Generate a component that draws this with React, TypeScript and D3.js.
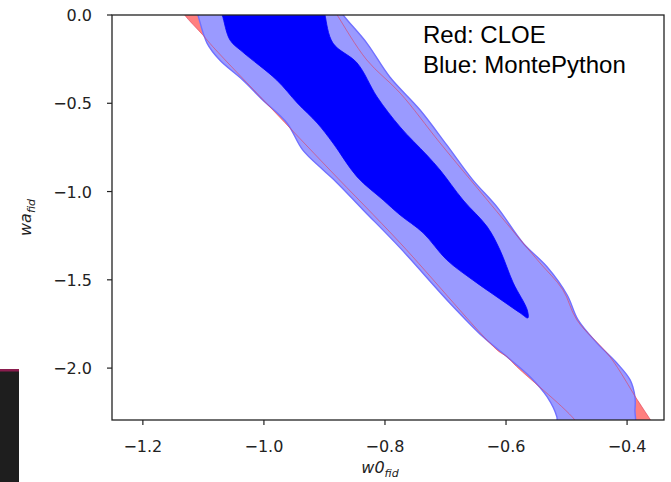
import React from "react";
import * as d3 from "d3";

// ---- data (w0_fid, wa_fid) contour vertices ----
const xTicks = [-1.2, -1.0, -0.8, -0.6, -0.4];
const yTicks = [0.0, -0.5, -1.0, -1.5, -2.0];
const xDomain = [-1.251, -0.339];
const yDomain = [-2.294, 0];

// Blue (MontePython) 95% contour
const blueOuter: [number, number][] = [
  [-0.878, 0.05], [-0.869, 0.0], [-0.83, -0.159], [-0.792, -0.351], [-0.742, -0.538],
  [-0.698, -0.736], [-0.655, -0.934], [-0.615, -1.087], [-0.572, -1.291],
  [-0.532, -1.427], [-0.499, -1.586], [-0.481, -1.727], [-0.45, -1.857],
  [-0.417, -1.971], [-0.395, -2.067], [-0.387, -2.163], [-0.387, -2.237],
  [-0.39, -2.35], [-0.514, -2.35], [-0.516, -2.276], [-0.532, -2.163],
  [-0.56, -2.05], [-0.598, -1.937], [-0.638, -1.823], [-0.693, -1.631],
  [-0.775, -1.319], [-0.836, -1.104], [-0.879, -0.951], [-0.902, -0.878],
  [-0.936, -0.764], [-0.962, -0.612], [-1.002, -0.481], [-1.035, -0.368],
  [-1.073, -0.255], [-1.094, -0.159], [-1.109, 0.0], [-1.113, 0.05],
];

// Blue (MontePython) 68% contour
const blueInner: [number, number][] = [
  [-1.075, 0.05], [-1.069, 0.0], [-1.056, -0.142], [-1.035, -0.21], [-0.979, -0.368],
  [-0.945, -0.498], [-0.912, -0.612], [-0.886, -0.725], [-0.846, -0.917],
  [-0.803, -1.048], [-0.775, -1.133], [-0.737, -1.234], [-0.698, -1.387],
  [-0.655, -1.501], [-0.615, -1.597], [-0.577, -1.687], [-0.564, -1.716],
  [-0.565, -1.67], [-0.588, -1.518], [-0.61, -1.331], [-0.631, -1.2],
  [-0.671, -1.048], [-0.709, -0.878], [-0.731, -0.793], [-0.775, -0.634],
  [-0.813, -0.464], [-0.846, -0.272], [-0.886, -0.159], [-0.899, 0.0], [-0.901, 0.05],
];

// Red (CLOE) 95% contour
const redOuter: [number, number][] = [
  [-0.888, 0.05], [-0.879, 0.0], [-0.83, -0.255], [-0.775, -0.442], [-0.709, -0.725],
  [-0.631, -1.048], [-0.572, -1.291], [-0.544, -1.404], [-0.506, -1.557],
  [-0.483, -1.727], [-0.428, -1.937], [-0.383, -2.18], [-0.359, -2.305],
  [-0.35, -2.35], [-0.48, -2.35], [-0.484, -2.305], [-0.582, -1.993],
  [-0.598, -1.937], [-0.615, -1.897], [-0.775, -1.291], [-0.891, -0.878],
  [-0.99, -0.521], [-1.084, -0.181], [-1.101, -0.113], [-1.131, 0.0], [-1.14, 0.05],
];

const legendLines = ["Red: CLOE", "Blue: MontePython"];

export default function App() {
  const W = 671, H = 482;
  const L = 112, R = 664, T = 15, B = 420;
  const x = d3.scaleLinear().domain(xDomain).range([L, R]);
  const y = d3.scaleLinear().domain(yDomain).range([B, T]);
  const path = d3
    .line<[number, number]>()
    .x((d) => x(d[0]))
    .y((d) => y(d[1]))
    .curve(d3.curveCatmullRomClosed.alpha(0.5));
  const fmt = (v: number) => (v < 0 ? "\u2212" : "") + Math.abs(v).toFixed(1);
  const tickFont = "'DejaVu Sans', sans-serif";

  return (
    <svg
      width={W}
      height={H}
      style={{ position: "absolute", left: 0, top: 0, background: "#fff" }}
    >
      <defs>
        <clipPath id="plotclip">
          <rect x={L} y={T} width={R - L} height={B - T} />
        </clipPath>
      </defs>
      <rect x={0} y={0} width={W} height={H} fill="#fff" />
      <g clipPath="url(#plotclip)">
        <path d={path(redOuter) || ""} fill="#ff7f7f" stroke="none" />
        <path d={path(blueOuter) || ""} fill="#9a9aff" stroke="#7070ff" strokeWidth={1.4} />
        <path d={path(blueInner) || ""} fill="#0000ff" stroke="#0000ff" strokeWidth={0.8} />
        <path d={path(redOuter) || ""} fill="none" stroke="#e0405a" strokeOpacity={0.6} strokeWidth={1} />
      </g>
      {/* frame */}
      <rect x={L} y={T} width={R - L} height={B - T} fill="none" stroke="#222" strokeWidth={1.3} />
      {/* x ticks */}
      {xTicks.map((t) => (
        <g key={"x" + t}>
          <line x1={x(t)} x2={x(t)} y1={B} y2={B + 5} stroke="#222" strokeWidth={1.2} />
          <text
            x={x(t)}
            y={452}
            textAnchor="middle"
            fontFamily={tickFont}
            fontSize={16}
            fill="#222"
          >
            {fmt(t)}
          </text>
        </g>
      ))}
      {/* y ticks */}
      {yTicks.map((t) => (
        <g key={"y" + t}>
          <line x1={L - 5} x2={L} y1={y(t)} y2={y(t)} stroke="#222" strokeWidth={1.2} />
          <text
            x={92}
            y={y(t) + 6}
            textAnchor="end"
            fontFamily={tickFont}
            fontSize={16}
            fill="#222"
          >
            {fmt(t)}
          </text>
        </g>
      ))}
      {/* axis labels */}
      <text
        x={(L + R) / 2 - 8}
        y={473}
        textAnchor="middle"
        fontFamily={tickFont}
        fontStyle="italic"
        fontSize={16}
        fill="#222"
      >
        w0
        <tspan fontSize={11} dy={4}>fid</tspan>
      </text>
      <text
        transform={`translate(31, ${(T + B) / 2}) rotate(-90)`}
        textAnchor="middle"
        fontFamily={tickFont}
        fontStyle="italic"
        fontSize={16}
        fill="#222"
      >
        wa
        <tspan fontSize={11} dy={4}>fid</tspan>
      </text>
      {/* legend text */}
      {legendLines.map((s, i) => (
        <text
          key={s}
          x={423}
          y={43 + i * 30}
          fontFamily="'Liberation Sans', Arial, sans-serif"
          fontSize={24}
          fill="#000"
        >
          {s}
        </text>
      ))}
      {/* dark block at bottom-left */}
      <rect x={0} y={370} width={19} height={H - 370} fill="#1e1e1e" />
      <rect x={0} y={369} width={19} height={2.5} fill="#8a1d4e" />
    </svg>
  );
}
